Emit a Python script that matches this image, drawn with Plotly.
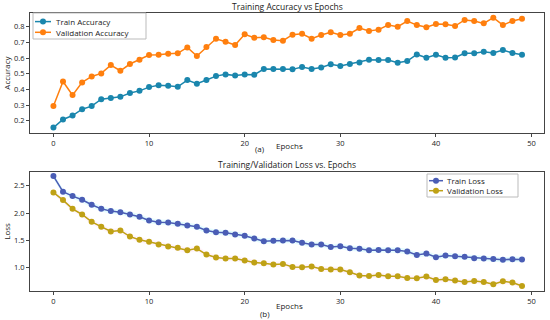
import plotly.graph_objects as go

epochs = list(range(50))

train_acc = [0.157, 0.209, 0.234, 0.274, 0.294, 0.338, 0.345, 0.353, 0.377, 0.391,
             0.415, 0.426, 0.423, 0.417, 0.460, 0.436, 0.460, 0.485, 0.496, 0.489,
             0.496, 0.494, 0.530, 0.530, 0.530, 0.528, 0.543, 0.530, 0.540, 0.560,
             0.549, 0.562, 0.572, 0.589, 0.587, 0.587, 0.570, 0.581, 0.623, 0.602,
             0.621, 0.602, 0.604, 0.630, 0.630, 0.640, 0.632, 0.651, 0.632, 0.621]
val_acc = [0.294, 0.451, 0.364, 0.445, 0.483, 0.502, 0.555, 0.519, 0.562, 0.589,
           0.619, 0.621, 0.628, 0.630, 0.668, 0.613, 0.670, 0.723, 0.704, 0.683,
           0.751, 0.730, 0.732, 0.715, 0.711, 0.749, 0.755, 0.723, 0.747, 0.764,
           0.747, 0.755, 0.791, 0.772, 0.781, 0.810, 0.800, 0.836, 0.810, 0.796,
           0.817, 0.815, 0.804, 0.843, 0.836, 0.821, 0.857, 0.810, 0.836, 0.851]
train_loss = [2.678, 2.390, 2.310, 2.243, 2.151, 2.077, 2.035, 2.016, 1.973, 1.930,
              1.863, 1.833, 1.826, 1.802, 1.771, 1.747, 1.680, 1.649, 1.637, 1.606,
              1.582, 1.533, 1.484, 1.490, 1.496, 1.496, 1.453, 1.422, 1.422, 1.379,
              1.392, 1.355, 1.343, 1.318, 1.324, 1.318, 1.318, 1.294, 1.232, 1.257,
              1.190, 1.220, 1.208, 1.196, 1.171, 1.165, 1.159, 1.141, 1.153, 1.147]
val_loss = [2.378, 2.237, 2.077, 1.973, 1.839, 1.747, 1.661, 1.680, 1.569, 1.508,
            1.471, 1.422, 1.386, 1.361, 1.318, 1.349, 1.239, 1.183, 1.165, 1.165,
            1.128, 1.092, 1.079, 1.055, 1.067, 1.012, 1.006, 1.018, 0.975, 0.963,
            0.963, 0.914, 0.853, 0.847, 0.865, 0.840, 0.840, 0.810, 0.804, 0.834,
            0.773, 0.785, 0.761, 0.736, 0.755, 0.736, 0.694, 0.749, 0.724, 0.663]
acc_names = ["Train Accuracy", "Validation Accuracy"]
loss_names = ["Train Loss", "Validation Loss"]
band = 0.05

FONT = "Open Sans"
C_TA = "#1a86ad"
C_VA = "#ff7f0e"
C_TL = "#4a5db5"
C_VL = "#bfa115"

W, H = 550, 320
ML, MR, MT, MB = 30, 6, 13, 29
PW, PH = W - ML - MR, H - MT - MB


def px(x):
    return (x - ML) / PW


def py(y):
    return 1 - (y - MT) / PH


fig = go.Figure()

# shaded bands around loss curves
fig.add_trace(go.Scatter(x=epochs, y=[v + band for v in train_loss], mode="lines",
                         line=dict(width=0), showlegend=False, hoverinfo="skip",
                         xaxis="x2", yaxis="y2"))
fig.add_trace(go.Scatter(x=epochs, y=[v - band for v in train_loss], mode="lines",
                         line=dict(width=0), fill="tonexty",
                         fillcolor="rgba(0,230,255,0.10)", showlegend=False,
                         hoverinfo="skip", xaxis="x2", yaxis="y2"))
fig.add_trace(go.Scatter(x=epochs, y=[v + band for v in val_loss], mode="lines",
                         line=dict(width=0), showlegend=False, hoverinfo="skip",
                         xaxis="x2", yaxis="y2"))
fig.add_trace(go.Scatter(x=epochs, y=[v - band for v in val_loss], mode="lines",
                         line=dict(width=0), fill="tonexty",
                         fillcolor="rgba(255,120,200,0.08)", showlegend=False,
                         hoverinfo="skip", xaxis="x2", yaxis="y2"))

mk = dict(size=6)
fig.add_trace(go.Scatter(x=epochs, y=train_acc, mode="lines+markers", name=acc_names[0],
                         line=dict(color=C_TA, width=1.5), marker=dict(color=C_TA, **mk),
                         showlegend=False))
fig.add_trace(go.Scatter(x=epochs, y=val_acc, mode="lines+markers", name=acc_names[1],
                         line=dict(color=C_VA, width=1.5), marker=dict(color=C_VA, **mk),
                         showlegend=False))
fig.add_trace(go.Scatter(x=epochs, y=train_loss, mode="lines+markers", name=loss_names[0],
                         line=dict(color=C_TL, width=1.5), marker=dict(color=C_TL, **mk),
                         xaxis="x2", yaxis="y2", showlegend=False))
fig.add_trace(go.Scatter(x=epochs, y=val_loss, mode="lines+markers", name=loss_names[1],
                         line=dict(color=C_VL, width=1.5), marker=dict(color=C_VL, **mk),
                         xaxis="x2", yaxis="y2", showlegend=False))

# compact legends (matplotlib-like) drawn as shapes + text
shapes = []
annotations = []


def add_legend(box, rows, names, colors, line_x, text_x):
    x0, y0, x1, y1 = box
    shapes.append(dict(type="rect", xref="paper", yref="paper",
                       x0=px(x0), x1=px(x1), y0=py(y1), y1=py(y0),
                       line=dict(color="#bbbbbb", width=1),
                       fillcolor="rgba(255,255,255,0.85)", layer="above"))
    for ry, name, col in zip(rows, names, colors):
        shapes.append(dict(type="line", xref="paper", yref="paper",
                           x0=px(line_x[0]), x1=px(line_x[1]), y0=py(ry), y1=py(ry),
                           line=dict(color=col, width=1.5), layer="above"))
        cx = (line_x[0] + line_x[1]) / 2
        shapes.append(dict(type="circle", xref="paper", yref="paper",
                           x0=px(cx - 3), x1=px(cx + 3), y0=py(ry + 3), y1=py(ry - 3),
                           line=dict(color=col, width=0), fillcolor=col, layer="above"))
        annotations.append(dict(text=name, x=px(text_x), y=py(ry), xref="paper",
                                yref="paper", xanchor="left", yanchor="middle",
                                showarrow=False, font=dict(size=8)))


add_legend((33, 13, 146, 39), (21.6, 32.3), acc_names, (C_TA, C_VA), (35, 51), 53.5)
add_legend((427, 174, 518, 197), (180.7, 190.7), loss_names, (C_TL, C_VL), (429, 443), 445)

annotations += [
    dict(text="Training Accuracy vs Epochs", x=0.5, y=1.0, xref="paper", yref="paper",
         xanchor="center", yanchor="middle", yshift=7, showarrow=False,
         font=dict(size=8.5)),
    dict(text="Epochs", x=0.505, y=0.568, xref="paper", yref="paper",
         xanchor="center", yanchor="middle", yshift=-12, showarrow=False,
         font=dict(size=8)),
    dict(text="(a)", x=0.448, y=0.568, xref="paper", yref="paper",
         xanchor="center", yanchor="middle", yshift=-15, showarrow=False,
         font=dict(size=8)),
    dict(text="Training/Validation Loss vs. Epochs", x=0.5, y=0.429, xref="paper",
         yref="paper", xanchor="center", yanchor="middle", yshift=7, showarrow=False,
         font=dict(size=8.5)),
    dict(text="Epochs", x=0.505, y=0, xref="paper", yref="paper",
         xanchor="center", yanchor="middle", yshift=-14, showarrow=False,
         font=dict(size=8)),
    dict(text="(b)", x=0.458, y=0, xref="paper", yref="paper",
         xanchor="center", yanchor="middle", yshift=-22, showarrow=False,
         font=dict(size=8)),
]

axis_common = dict(showgrid=False, zeroline=False, showline=True, mirror=True,
                   linecolor="#444444", linewidth=1, ticks="outside", ticklen=3,
                   tickcolor="#444444", tickfont=dict(size=7.5, color="#222"),
                   automargin=False)

fig.update_layout(
    template="none",
    width=W, height=H,
    margin=dict(l=ML, r=MR, t=MT, b=MB, autoexpand=False),
    paper_bgcolor="white", plot_bgcolor="white",
    font=dict(family=FONT, size=8, color="#222"),
    showlegend=False,
    xaxis=dict(domain=[0, 1], anchor="y", range=[-2.45, 51.3],
               tickvals=[0, 10, 20, 30, 40, 50], **axis_common),
    yaxis=dict(domain=[0.568, 1], anchor="x", range=[0.122, 0.887],
               tickvals=[0.2, 0.3, 0.4, 0.5, 0.6, 0.7, 0.8], tickformat=".1f",
               title=dict(text="Accuracy", font=dict(size=8), standoff=2), **axis_common),
    xaxis2=dict(domain=[0, 1], anchor="y2", range=[-2.45, 51.3],
                tickvals=[0, 10, 20, 30, 40, 50], **axis_common),
    yaxis2=dict(domain=[0, 0.429], anchor="x2", range=[0.57, 2.757],
                tickvals=[1.0, 1.5, 2.0, 2.5], tickformat=".1f",
                title=dict(text="Loss", font=dict(size=8), standoff=2), **axis_common),
    shapes=shapes,
    annotations=annotations,
)

fig.write_html("out.html", config={"displayModeBar": False},
               post_script="document.body.style.margin='0px';document.body.style.overflow='hidden';")
